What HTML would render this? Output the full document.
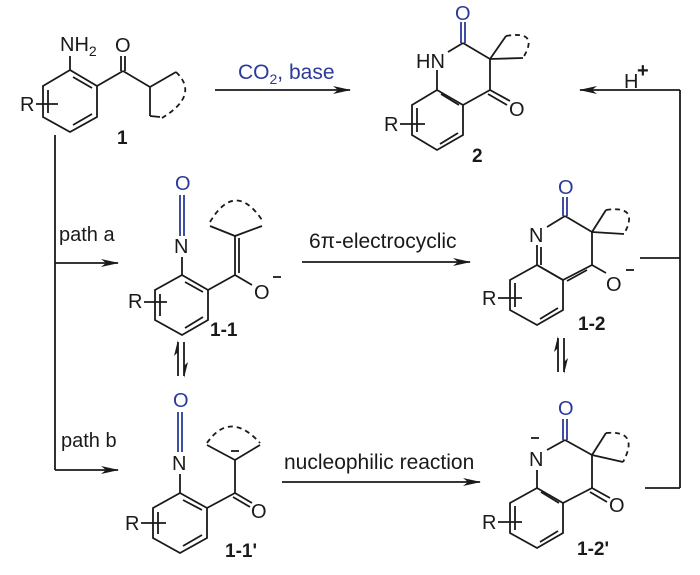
<!DOCTYPE html>
<html><head><meta charset="utf-8"><style>
html,body{margin:0;padding:0;background:#fff;}
svg{display:block;font-family:"Liberation Sans",Arial,sans-serif;}
.b{stroke:#1a1a1a;stroke-width:1.8;fill:none;}
.d{stroke:#1a1a1a;stroke-width:1.8;fill:none;stroke-dasharray:5,4;}
.bl{stroke:#2b3a9a;stroke-width:1.8;fill:none;}
text{font-size:20px;fill:#1a1a1a;}
.t{font-size:21px;}
.blue{fill:#2b3a9a;}
.lab{font-weight:bold;font-size:19px;}
</style></head><body>
<svg width="700" height="575" viewBox="0 0 700 575" xmlns="http://www.w3.org/2000/svg">
<defs>
<marker id="ah" markerWidth="18" markerHeight="8" refX="17" refY="4" orient="auto" markerUnits="userSpaceOnUse"><path d="M0,0 L18,4 L0,8 L5,4 Z" fill="#1a1a1a"/></marker>
</defs>

<!-- Compound 1 -->
<g>
<polygon class="b" points="70,70 97,86 97,117 70,132 43,117 43,86"/>
<line class="b" x1="73" y1="77" x2="92" y2="88"/>
<line class="b" x1="92" y1="114" x2="73" y2="125"/>
<line class="b" x1="48" y1="90" x2="48" y2="113"/>
<line class="b" x1="70" y1="70" x2="70" y2="56"/>
<text x="60" y="51">NH<tspan font-size="14" dy="5">2</tspan></text>
<line class="b" x1="97" y1="86" x2="123" y2="71"/>
<line class="b" x1="121" y1="71" x2="121" y2="56"/><line class="b" x1="125" y1="71" x2="125" y2="56"/>
<text x="115" y="52">O</text>
<line class="b" x1="123" y1="71" x2="150" y2="87"/>
<line class="b" x1="150" y1="87" x2="176" y2="72"/>
<line class="b" x1="150" y1="87" x2="150" y2="116"/>
<line class="b" x1="150" y1="116" x2="160" y2="117"/>
<path class="d" d="M176,72 Q200,95 162,118"/>
<text x="20" y="111">R</text>
<line class="b" x1="36" y1="104" x2="58" y2="104"/>
<text class="lab" x="117" y="144">1</text>
</g>

<!-- CO2 arrow -->
<line class="b" x1="215" y1="90" x2="350" y2="90" marker-end="url(#ah)"/>
<text class="blue t" x="238" y="79">CO<tspan font-size="14" dy="5">2</tspan><tspan dy="-5">, base</tspan></text>

<!-- Compound 2 -->
<g>
<polygon class="b" points="437,90 412,105 412,135 437,150 463,135 463,105"/>
<line class="b" x1="417" y1="108" x2="417" y2="132"/>
<line class="b" x1="440" y1="144" x2="458" y2="133"/>
<line class="b" x1="441" y1="94" x2="459" y2="105"/>
<line class="b" x1="437" y1="90" x2="437" y2="70"/>
<text x="416" y="68">HN</text>
<line class="b" x1="448" y1="52" x2="463" y2="43"/>
<line class="bl" x1="461" y1="43" x2="461" y2="22"/><line class="bl" x1="465" y1="43" x2="465" y2="22"/>
<text class="blue" x="455" y="20">O</text>
<line class="b" x1="463" y1="43" x2="490" y2="59"/>
<line class="b" x1="490" y1="59" x2="490" y2="90"/>
<line class="b" x1="490" y1="90" x2="463" y2="105"/>
<line class="b" x1="490" y1="90" x2="510" y2="101"/><line class="b" x1="488" y1="94" x2="507" y2="105"/>
<text x="509" y="116">O</text>
<line class="b" x1="490" y1="59" x2="506" y2="36"/>
<line class="b" x1="490" y1="59" x2="523" y2="58"/>
<path class="d" d="M506,36 Q540,30 523,58"/>
<text x="384" y="131">R</text>
<line class="b" x1="400" y1="124" x2="425" y2="124"/>
<text class="lab" x="472" y="162">2</text>
</g>

<!-- H+ return -->
<line class="b" x1="680" y1="90" x2="680" y2="488"/>
<line class="b" x1="680" y1="90" x2="580" y2="90" marker-end="url(#ah)"/>
<text x="624" y="88">H</text><text x="637" y="77" font-size="14" font-weight="bold">+</text>
<line class="b" x1="640" y1="258" x2="680" y2="258"/>
<line class="b" x1="645" y1="488" x2="680" y2="488"/>

<!-- paths -->
<line class="b" x1="55" y1="135" x2="55" y2="470"/>
<line class="b" x1="55" y1="263" x2="118" y2="263" marker-end="url(#ah)"/>
<line class="b" x1="55" y1="470" x2="118" y2="470" marker-end="url(#ah)"/>
<text x="59" y="241">path a</text>
<text x="61" y="447">path b</text>

<!-- 1-1 -->
<g>
<polygon class="b" points="182,275 208,290 208,320 182,335 155,320 155,290"/>
<line class="b" x1="185" y1="282" x2="203" y2="292"/>
<line class="b" x1="203" y1="317" x2="185" y2="328"/>
<line class="b" x1="160" y1="294" x2="160" y2="316"/>
<line class="b" x1="182" y1="275" x2="182" y2="257"/>
<text x="174" y="253">N</text>
<line class="bl" x1="180" y1="236" x2="180" y2="195"/><line class="bl" x1="184" y1="236" x2="184" y2="195"/>
<text class="blue" x="175" y="190">O</text>
<line class="b" x1="208" y1="290" x2="235" y2="275"/>
<line class="b" x1="235" y1="275" x2="235" y2="236"/><line class="b" x1="239" y1="273" x2="239" y2="238"/>
<line class="b" x1="235" y1="236" x2="210" y2="226"/>
<line class="b" x1="235" y1="236" x2="262" y2="226"/>
<path class="d" d="M210,222 Q235,180 262,220"/>
<line class="b" x1="235" y1="275" x2="252" y2="285"/>
<text x="254" y="299">O</text>
<line class="b" x1="273" y1="277" x2="281" y2="277"/>
<text x="128" y="308">R</text>
<line class="b" x1="144" y1="302" x2="167" y2="302"/>
<text class="lab" x="210" y="336">1-1</text>
</g>

<!-- eq arrows -->
<g>
<line class="b" x1="178" y1="342" x2="178" y2="376"/><path d="M178,340 L174,356 L178,352 Z" fill="#1a1a1a"/>
<line class="b" x1="184" y1="342" x2="184" y2="376"/><path d="M184,378 L188,362 L184,366 Z" fill="#1a1a1a"/>
<line class="b" x1="558" y1="338" x2="558" y2="372"/><path d="M558,336 L554,352 L558,348 Z" fill="#1a1a1a"/>
<line class="b" x1="564" y1="338" x2="564" y2="372"/><path d="M564,374 L568,358 L564,362 Z" fill="#1a1a1a"/>
</g>

<!-- 6pi arrow -->
<line class="b" x1="302" y1="262" x2="470" y2="262" marker-end="url(#ah)"/>
<text class="t" x="309" y="248">6π-electrocyclic</text>

<!-- 1-2 -->
<g>
<polygon class="b" points="537,265 510,280 510,310 537,325 563,310 563,280"/>
<line class="b" x1="515" y1="283" x2="515" y2="307"/>
<line class="b" x1="540" y1="319" x2="558" y2="308"/>
<line class="b" x1="537" y1="265" x2="537" y2="245"/><line class="b" x1="541" y1="265" x2="541" y2="247"/>
<text x="529" y="242">N</text>
<line class="b" x1="547" y1="227" x2="565" y2="216"/>
<line class="bl" x1="563" y1="216" x2="563" y2="197"/><line class="bl" x1="567" y1="216" x2="567" y2="197"/>
<text class="blue" x="558" y="194">O</text>
<line class="b" x1="565" y1="216" x2="592" y2="232"/>
<line class="b" x1="592" y1="232" x2="592" y2="265"/>
<line class="b" x1="592" y1="265" x2="563" y2="280"/><line class="b" x1="587" y1="270" x2="567" y2="281"/>
<line class="b" x1="537" y1="265" x2="563" y2="280"/>
<line class="b" x1="592" y1="265" x2="606" y2="273"/>
<text x="606" y="291">O</text>
<line class="b" x1="626" y1="270" x2="634" y2="270"/>
<line class="b" x1="592" y1="232" x2="606" y2="210"/>
<line class="b" x1="592" y1="232" x2="624" y2="234"/>
<path class="d" d="M606,210 Q640,205 624,234"/>
<text x="482" y="305">R</text>
<line class="b" x1="498" y1="298" x2="522" y2="298"/>
<text class="lab" x="578" y="330">1-2</text>
</g>

<!-- 1-1' -->
<g>
<polygon class="b" points="180,493 207,508 207,538 180,553 153,538 153,508"/>
<line class="b" x1="183" y1="500" x2="202" y2="510"/>
<line class="b" x1="202" y1="535" x2="183" y2="546"/>
<line class="b" x1="158" y1="512" x2="158" y2="534"/>
<line class="b" x1="180" y1="493" x2="180" y2="474"/>
<text x="172" y="470">N</text>
<line class="bl" x1="178" y1="452" x2="178" y2="412"/><line class="bl" x1="182" y1="452" x2="182" y2="412"/>
<text class="blue" x="173" y="407">O</text>
<line class="b" x1="207" y1="508" x2="235" y2="493"/>
<line class="b" x1="235" y1="493" x2="252" y2="503"/><line class="b" x1="233" y1="497" x2="250" y2="507"/>
<text x="251" y="518">O</text>
<line class="b" x1="235" y1="493" x2="235" y2="460"/>
<line class="b" x1="235" y1="460" x2="207" y2="445"/>
<line class="b" x1="235" y1="460" x2="260" y2="445"/>
<path class="d" d="M207,443 Q230,410 260,443"/>
<line class="b" x1="231" y1="451" x2="239" y2="451"/>
<text x="125" y="530">R</text>
<line class="b" x1="141" y1="523" x2="166" y2="523"/>
<text class="lab" x="225" y="557">1-1'</text>
</g>

<!-- nucleophilic arrow -->
<line class="b" x1="282" y1="482" x2="480" y2="482" marker-end="url(#ah)"/>
<text class="t" x="284" y="469">nucleophilic reaction</text>

<!-- 1-2' -->
<g>
<polygon class="b" points="537,488 510,503 510,533 537,548 563,533 563,503"/>
<line class="b" x1="515" y1="506" x2="515" y2="530"/>
<line class="b" x1="540" y1="542" x2="558" y2="531"/>
<line class="b" x1="541" y1="492" x2="559" y2="503"/>
<line class="b" x1="537" y1="488" x2="537" y2="470"/>
<text x="529" y="466">N</text>
<line class="b" x1="531" y1="438" x2="539" y2="438"/>
<line class="b" x1="547" y1="450" x2="565" y2="440"/>
<line class="bl" x1="563" y1="440" x2="563" y2="419"/><line class="bl" x1="567" y1="440" x2="567" y2="419"/>
<text class="blue" x="558" y="415">O</text>
<line class="b" x1="565" y1="440" x2="592" y2="455"/>
<line class="b" x1="592" y1="455" x2="592" y2="488"/>
<line class="b" x1="592" y1="488" x2="563" y2="503"/>
<line class="b" x1="592" y1="488" x2="610" y2="498"/><line class="b" x1="590" y1="492" x2="607" y2="502"/>
<text x="609" y="512">O</text>
<line class="b" x1="592" y1="455" x2="606" y2="433"/>
<line class="b" x1="592" y1="455" x2="623" y2="462"/>
<path class="d" d="M606,433 Q640,430 623,462"/>
<text x="482" y="529">R</text>
<line class="b" x1="498" y1="522" x2="522" y2="522"/>
<text class="lab" x="577" y="555">1-2'</text>
</g>
</svg>
</body></html>
